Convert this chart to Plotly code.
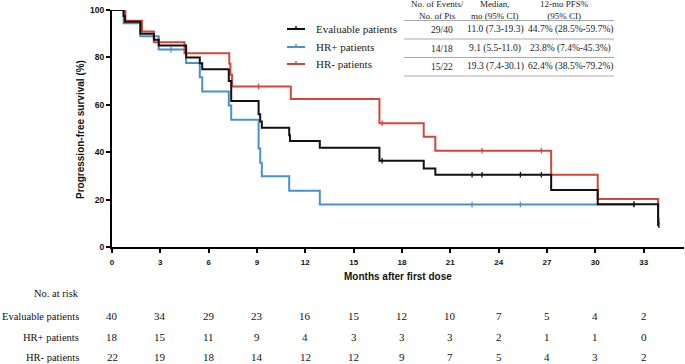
import plotly.graph_objects as go

# ---------------- data ----------------
months_ticks = [0, 3, 6, 9, 12, 15, 18, 21, 24, 27, 30, 33]

eval_t = [0, 0.72, 0.8, 1.76, 2.6, 2.9, 4.6, 5.45, 5.6, 7.25, 7.4, 9.1, 9.2, 9.3, 11.0, 11.05, 12.9, 16.6, 19.35, 20.07, 27.26, 30.15, 33.9]
eval_s = [100, 97.5, 95, 90, 87.5, 85, 80, 77.5, 75, 70, 61.6, 56, 53, 50.3, 47.2, 44.7, 41.9, 36.4, 33.1, 30.5, 24.0, 18.05, 9.2]
eval_cens = [16.77, 22.35, 22.97, 25.35, 26.65, 32.4, 33.95]

hrp_t = [0, 0.72, 1.76, 2.9, 4.6, 5.45, 5.6, 7.25, 7.4, 9.1, 9.2, 9.3, 11.0, 12.9]
hrp_s = [100, 94.4, 88.9, 83.3, 77.6, 71.6, 65.6, 59.7, 53.7, 41.6, 35.5, 29.9, 23.7, 17.9]
hrp_cens = [3.66, 22.35, 25.35, 32.4]

hrn_t = [0, 0.83, 1.86, 2.6, 4.5, 7.28, 7.35, 7.45, 11.1, 16.6, 19.35, 20.07, 27.26, 30.15, 33.9]
hrn_s = [100, 95.5, 90.9, 86.4, 81.8, 77.3, 72.7, 67.7, 62.5, 52.2, 46.5, 40.6, 30.5, 20.3, 11.0]
hrn_cens = [9.1, 16.77, 22.97, 26.65, 33.95]

group_names = ["Evaluable patients", "HR+ patients", "HR- patients"]
risk_eval = [40, 34, 29, 23, 16, 15, 12, 10, 7, 5, 4, 2]
risk_hrp = [18, 15, 11, 9, 4, 3, 3, 3, 2, 1, 1, 0]
risk_hrn = [22, 19, 18, 14, 12, 12, 9, 7, 5, 4, 3, 2]

tbl_header = ["No. of Events/<br>No. of Pts", "Median,<br>mo (95% CI)", "12-mo PFS%<br>(95% CI)"]
tbl_events = ["29/40", "14/18", "15/22"]
tbl_median = ["11.0 (7.3-19.3)", "9.1 (5.5-11.0)", "19.3 (7.4-30.1)"]
tbl_pfs12 = ["44.7% (28.5%-59.7%)", "23.8% (7.4%-45.3%)", "62.4% (38.5%-79.2%)"]

BLACK = "#111111"
BLUE = "#4a90cf"
RED = "#d2473b"

# ---------------- geometry helpers ----------------
W, H = 685, 364
ML, MR, MT, MB = 112, 1, 10, 117
PW = W - ML - MR
PH = H - MT - MB
PX_PER_MONTH = 16.11
XMAX = PW / PX_PER_MONTH


def px2paper(px):
    return (px - ML) / PW


def py2paper(py):
    return (MT + PH - py) / PH


def step_val(ts, ss, t):
    v = ss[0]
    for ti, si in zip(ts, ss):
        if ti <= t:
            v = si
    return v


fig = go.Figure()

curves = [
    (hrp_t, hrp_s, hrp_cens, BLUE),
    (hrn_t, hrn_s, hrn_cens, RED),
    (eval_t, eval_s, eval_cens, BLACK),
]
for ts, ss, cens, col in curves:
    xs = list(ts)
    ys = list(ss)
    last = max(cens)
    if last > xs[-1]:
        xs.append(last)
        ys.append(ys[-1])
    fig.add_trace(go.Scatter(x=xs, y=ys, mode="lines", line=dict(color=col, width=2, shape="hv"),
                             showlegend=False, hoverinfo="skip"))
    fig.add_trace(go.Scatter(x=cens, y=[step_val(ts, ss, c) for c in cens], mode="markers",
                             marker=dict(symbol="line-ns", size=4, line=dict(width=1.3, color=col)),
                             showlegend=False, hoverinfo="skip"))

annotations = []
shapes = []

# legend
legend_cols = [BLACK, BLUE, RED]
legend_py = [29, 47, 64]
for name, col, py in zip(group_names, legend_cols, legend_py):
    shapes.append(dict(type="line", xref="paper", yref="paper",
                       x0=px2paper(287), x1=px2paper(305), y0=py2paper(py), y1=py2paper(py),
                       line=dict(color=col, width=2)))
    shapes.append(dict(type="line", xref="paper", yref="paper",
                       x0=px2paper(296), x1=px2paper(296), y0=py2paper(py), y1=py2paper(py - 3),
                       line=dict(color=col, width=1.5)))
    annotations.append(dict(text=name, xref="paper", yref="paper", x=px2paper(314), y=py2paper(py),
                            xanchor="left", yanchor="middle", showarrow=False,
                            font=dict(family="Liberation Serif", size=11, color="#222")))

# summary table
col_px = [442, 495, 570]
hdr_px = [437, 495, 564]
for i in range(3):
    annotations.append(dict(text=tbl_header[i], xref="paper", yref="paper", x=px2paper(hdr_px[i]), y=py2paper(10.5),
                            xanchor="center", yanchor="middle", showarrow=False,
                            font=dict(family="Liberation Serif", size=9, color="#222")))
row_py = [30, 48.5, 66.5]
for r in range(3):
    for c, vals in enumerate([tbl_events, tbl_median, tbl_pfs12]):
        annotations.append(dict(text=vals[r], xref="paper", yref="paper", x=px2paper(col_px[c]), y=py2paper(row_py[r]),
                                xanchor="center", yanchor="middle", showarrow=False,
                                font=dict(family="Liberation Serif", size=9.5, color="#222")))
for py in [20.5, 39, 57.5, 76]:
    shapes.append(dict(type="line", xref="paper", yref="paper",
                       x0=px2paper(404), x1=px2paper(614), y0=py2paper(py), y1=py2paper(py),
                       line=dict(color="#aaaaaa", width=1)))

# axis titles
annotations.append(dict(text="<b>Months after first dose</b>", xref="paper", yref="paper",
                        x=px2paper(398), y=py2paper(276), xanchor="center", yanchor="middle", showarrow=False,
                        font=dict(family="Liberation Sans", size=10, color="#111")))
annotations.append(dict(text="<b>Progression-free survival (%)</b>", xref="paper", yref="paper",
                        x=px2paper(80), y=py2paper(130), xanchor="center", yanchor="middle", textangle=-90, showarrow=False,
                        font=dict(family="Liberation Sans", size=10, color="#111")))

# number at risk
annotations.append(dict(text="No. at risk", xref="paper", yref="paper", x=px2paper(81), y=py2paper(293),
                        xanchor="right", yanchor="middle", showarrow=False,
                        font=dict(family="Liberation Serif", size=10.5, color="#111")))
risk_py = [316, 337, 357]
for name, vals, py in zip(group_names, [risk_eval, risk_hrp, risk_hrn], risk_py):
    annotations.append(dict(text=name, xref="paper", yref="paper", x=px2paper(81), y=py2paper(py),
                            xanchor="right", yanchor="middle", showarrow=False,
                            font=dict(family="Liberation Serif", size=10.5, color="#111")))
    for t, v in zip(months_ticks, vals):
        annotations.append(dict(text=str(v), xref="x", yref="paper", x=t, y=py2paper(py),
                                xanchor="center", yanchor="middle", showarrow=False,
                                font=dict(family="Liberation Serif", size=11, color="#111")))

fig.update_layout(
    width=W, height=H,
    margin=dict(l=ML, r=MR, t=MT, b=MB),
    paper_bgcolor="white", plot_bgcolor="white",
    showlegend=False,
    annotations=annotations,
    shapes=shapes,
    xaxis=dict(range=[0, XMAX], tickvals=months_ticks, ticktext=[str(t) for t in months_ticks],
               showgrid=False, zeroline=False, showline=True, linecolor="black", linewidth=2,
               ticks="outside", ticklen=4, tickwidth=1.5, tickcolor="black",
               tickfont=dict(family="Liberation Sans", size=8, color="#111", weight="bold"),
               ticklabelstandoff=2),
    yaxis=dict(range=[0, 100], tickvals=[0, 20, 40, 60, 80, 100],
               showgrid=False, zeroline=False, showline=True, linecolor="black", linewidth=2,
               ticks="outside", ticklen=4, tickwidth=1.5, tickcolor="black",
               tickfont=dict(family="Liberation Sans", size=8.5, color="#111", weight="bold")),
)

fig.write_html("out.html", config={"displayModeBar": False},
               post_script="document.body.style.margin='0';document.body.style.padding='0';")
